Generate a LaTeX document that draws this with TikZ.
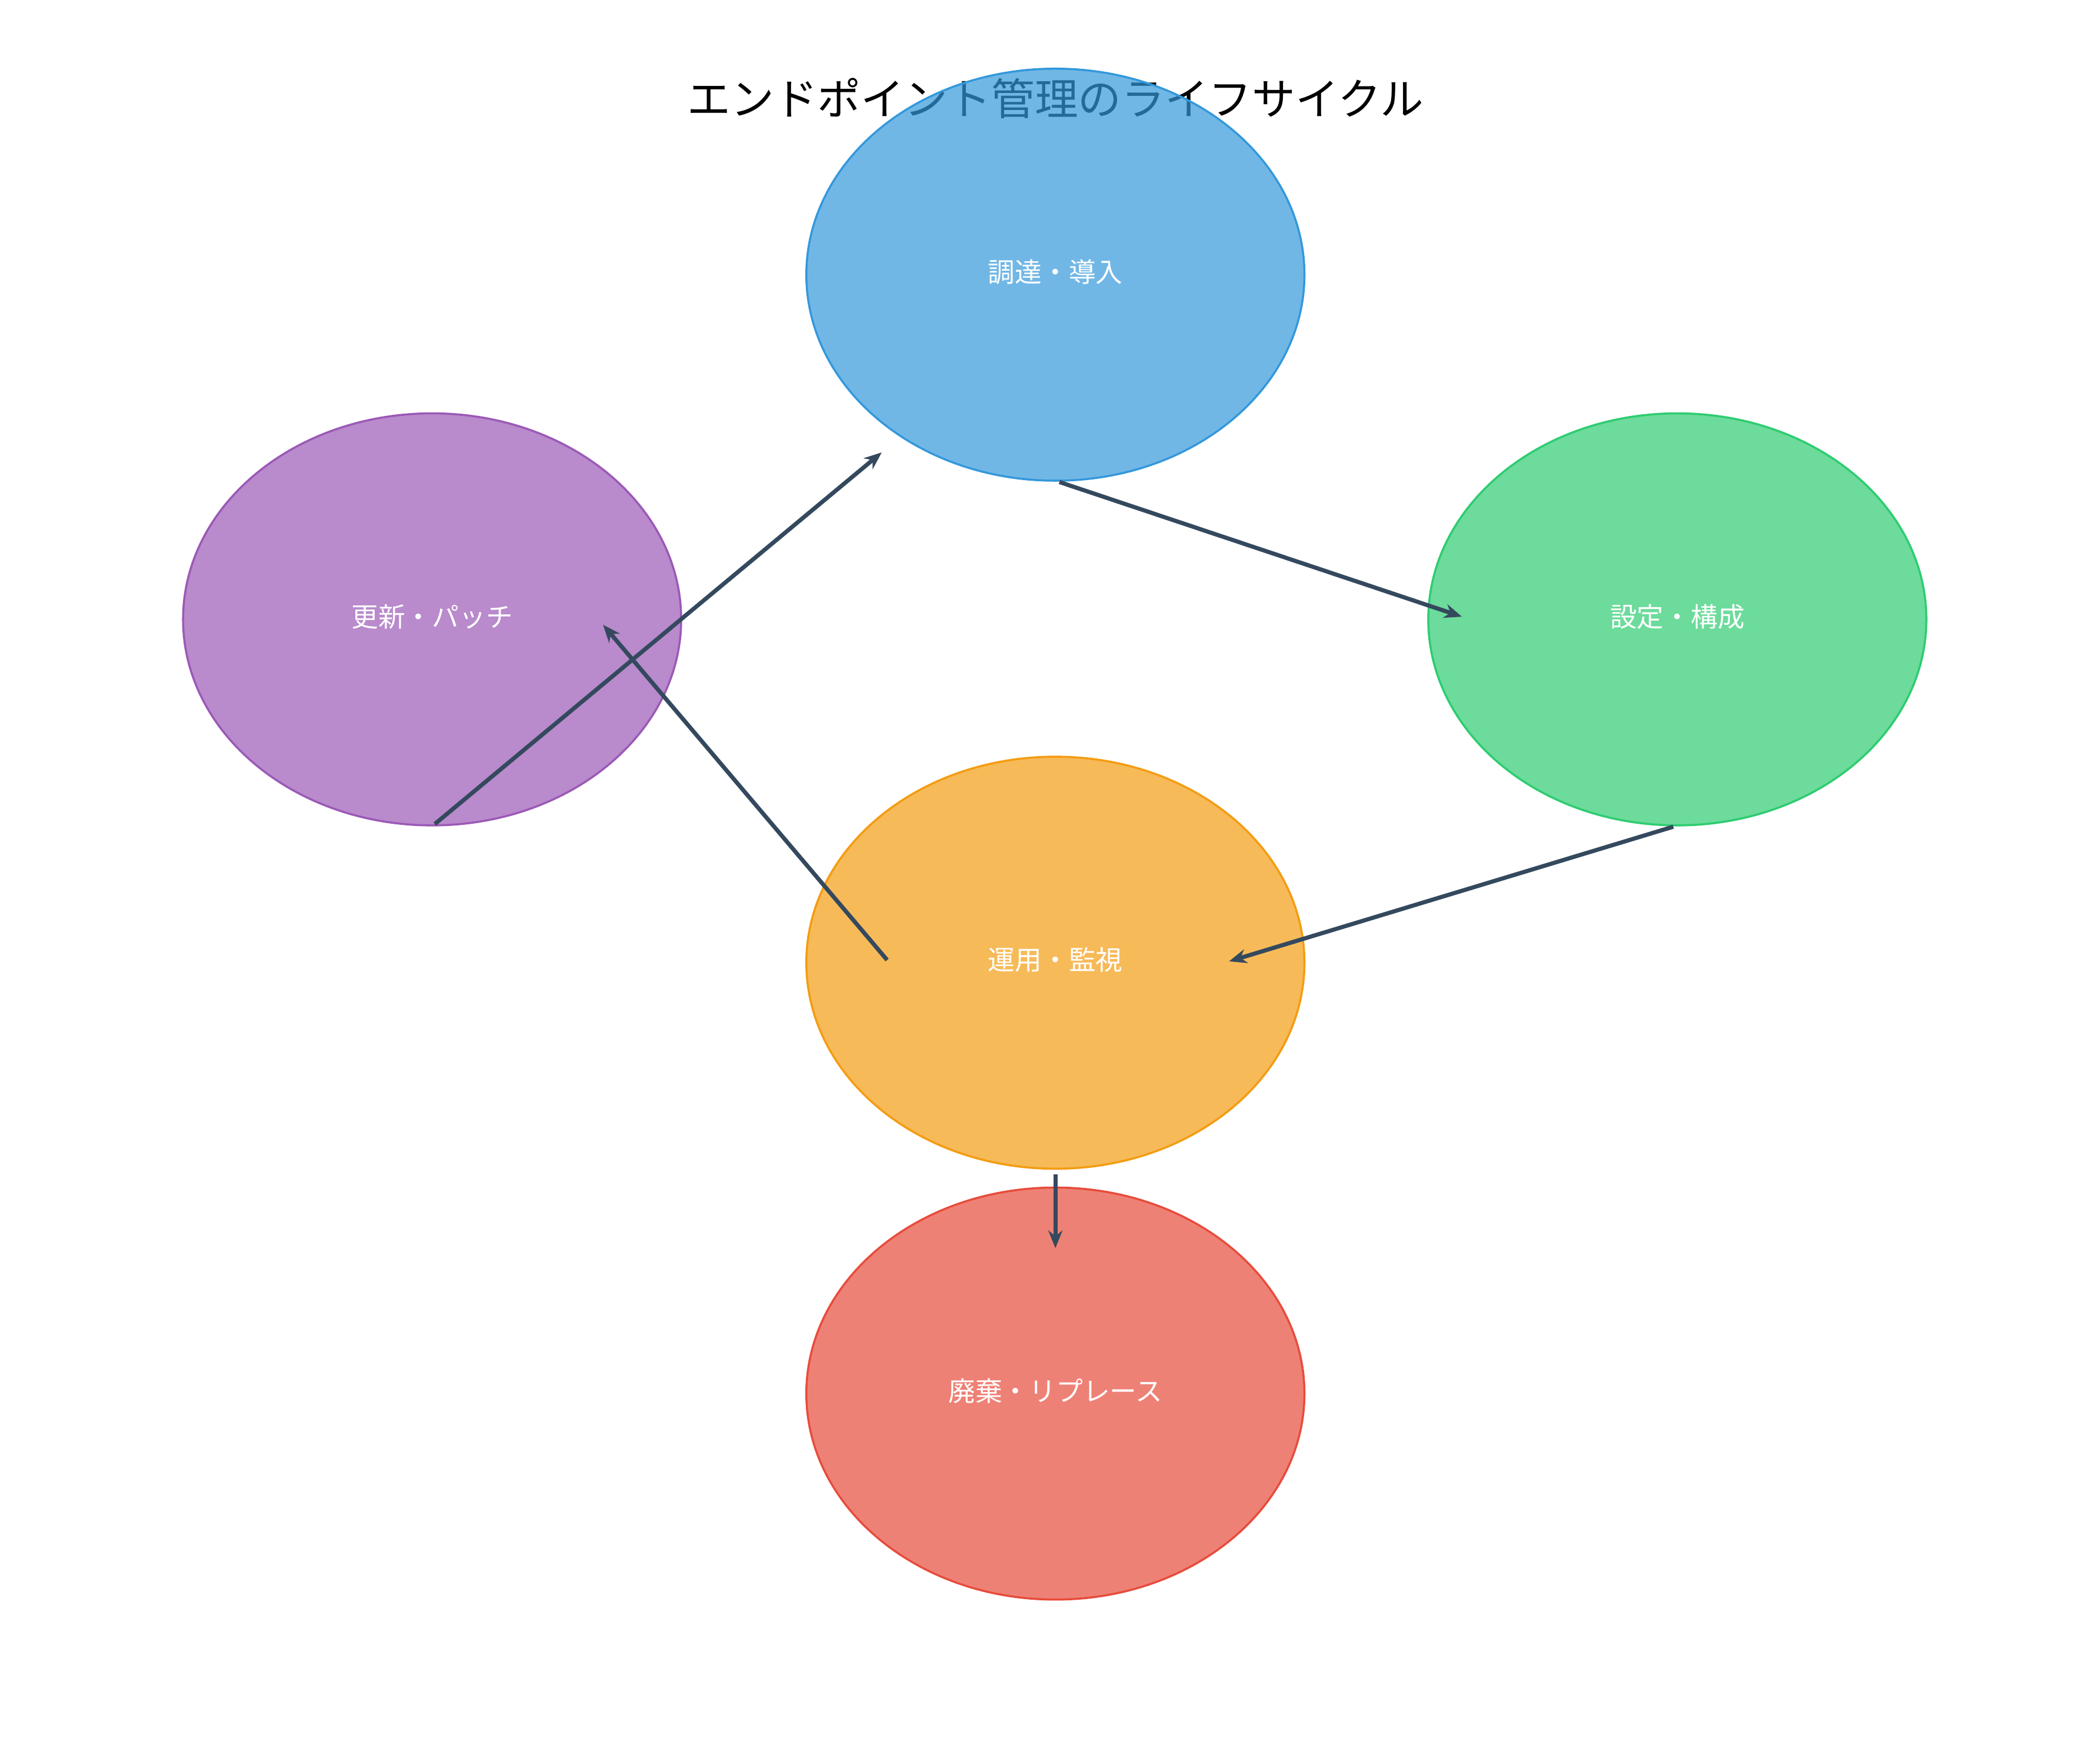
\documentclass[tikz,border=0pt]{standalone}
\usepackage{fontspec}
\setmainfont{Noto Sans CJK JP}
\usetikzlibrary{arrows.meta}
\definecolor{cblue}{HTML}{3498DB}
\definecolor{cgreen}{HTML}{2ECC71}
\definecolor{cpurple}{HTML}{9B59B6}
\definecolor{corange}{HTML}{F39C12}
\definecolor{cred}{HTML}{E74C3C}
\definecolor{arrowc}{HTML}{34495E}
\begin{document}
\begin{tikzpicture}[x=0.02288cm,y=-0.02288cm,
-{Stealth[length=3mm,width=2.4mm]},>=Stealth]
     \tikzstyle{label}=[text=white,font=\fontsize{13}{15}\selectfont]
     \tikzstyle{phase}=[fill opacity=0.7,line width=1pt,-]
     \tikzstyle{edge} = [draw,line width=2pt,arrowc]
     \useasboundingbox (0,0) rectangle (1560,1298);
     \node[font=\fontsize{21}{24}\selectfont] (title) at (784,73) {エンドポイント管理のライフサイクル};

     \filldraw[cblue,phase] (784,204) ellipse (185 and 153);
     \filldraw[cgreen,phase] (1246,460) ellipse (185 and 153);
     \filldraw[cpurple,phase] (321,460) ellipse (185 and 153);
     \filldraw[corange,phase] (784,715) ellipse (185 and 153);
     \filldraw[cred,phase] (784,1035) ellipse (185 and 153);

     \node[label] (p1) at (784,202) {調達・導入};
     \node[label] (p2) at (1246,458) {設定・構成};
     \node[label] (p3) at (784,713) {運用・監視};
     \node[label] (p4) at (321,458) {更新・パッチ};
     \node[label] (p5) at (784,1033) {廃棄・リプレース};

     \coordinate (s1) at (787,358);
     \coordinate (e1) at (1086,458);
     \coordinate (s2) at (1243,614);
     \coordinate (e2) at (913,714);
     \coordinate (s3) at (659,713);
     \coordinate (e3) at (448,464);
     \coordinate (s4) at (323,612);
     \coordinate (e4) at (655,336);
     \coordinate (s5) at (784,872);
     \coordinate (e5) at (784,927);

     \draw[edge] (s1) -- (e1);
     \draw[edge] (s2) -- (e2);
     \draw[edge] (s3) -- (e3);
     \draw[edge] (s4) -- (e4);
     \draw[edge] (s5) -- (e5);
 \end{tikzpicture}
\end{document}
